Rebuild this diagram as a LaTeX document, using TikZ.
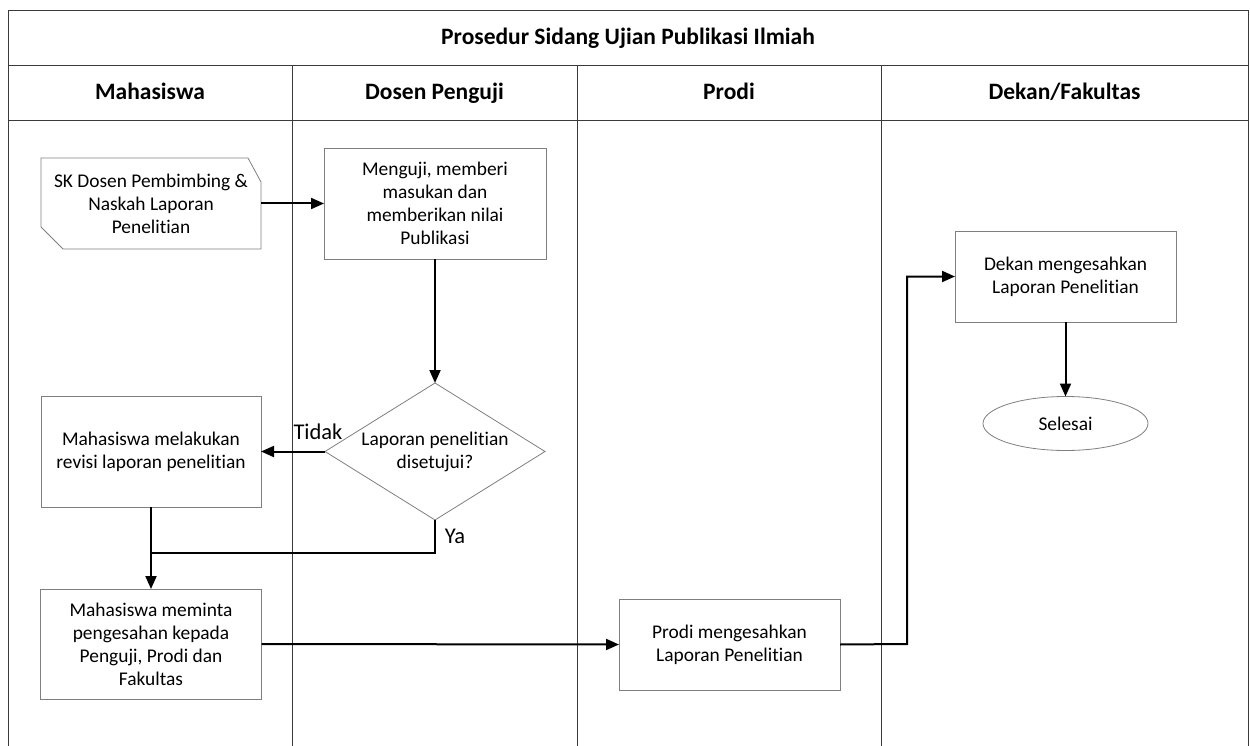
\documentclass[tikz,border=0pt]{standalone}
\usepackage{fontspec}
\setmainfont{Carlito}[Ligatures=NoCommon]
\usetikzlibrary{arrows.meta,shapes.geometric}
\definecolor{boxgray}{HTML}{7F7F7F}
\definecolor{lanegray}{HTML}{3A3A3A}
\tikzset{
  lane/.style={draw=lanegray,line width=1pt},
  body/.style={font=\fontsize{19.4}{23}\selectfont},
  proc/.style={body,draw=boxgray,line width=0.8pt,fill=white,align=center,inner sep=2pt,outer sep=0pt},
  docshape/.style={body,draw=none,align=center,inner sep=2pt,outer sep=0pt},
  dec/.style={body,diamond,draw=boxgray,line width=0.8pt,fill=white,align=center,inner sep=0pt,outer sep=0pt},
  term/.style={body,ellipse,draw=boxgray,line width=0.8pt,fill=white,inner sep=0pt,outer sep=0pt},
  conn/.style={draw=black,line width=2pt},
  arr/.style={conn,-{Triangle[length=13pt,width=11pt]}},
  hdr/.style={font=\bfseries\fontsize{23.5}{27}\selectfont,text height=16pt,text depth=5pt,inner sep=0pt},
  lbl/.style={font=\fontsize{22.5}{26}\selectfont,inner sep=0pt},
}
\begin{document}
\begin{tikzpicture}[x=1pt,y=-1pt]
\useasboundingbox (0,0) rectangle (1250,746);
% swimlane frame
\draw[lane] (8,746) -- (8,11) -- (1248,11) -- (1248,746);
\draw[lane] (8,66) -- (1248,66);
\draw[lane] (8,121) -- (1248,121);
\draw[lane] (292,66) -- (292,746);
\draw[lane] (577,66) -- (577,746);
\draw[lane] (881,66) -- (881,746);
% titles
\node[hdr] (title) at (628,39) {Prosedur Sidang Ujian Publikasi Ilmiah};
\node[hdr] (h1) at (150,94) {Mahasiswa};
\node[hdr] (h2) at (434.5,94) {Dosen Penguji};
\node[hdr] (h3) at (729,94) {Prodi};
\node[hdr] (h4) at (1064.5,94) {Dekan/Fakultas};
% document shape
\node[docshape,minimum width=220pt,minimum height=91pt] (doc) at (151,203.5)
  {SK Dosen Pembimbing \&\\Naskah Laporan\\Penelitian};
\draw[draw=boxgray,line width=0.8pt]
  (doc.north west) -- ([xshift=-13pt]doc.north east) -- ([yshift=-24pt]doc.north east)
  -- (doc.south east) -- ([xshift=22pt]doc.south west) -- ([yshift=22pt]doc.south west) -- cycle;
% process boxes
\node[proc,minimum width=222pt,minimum height=111pt] (uji) at (435,203.5)
  {Menguji, memberi\\masukan dan\\memberikan nilai\\Publikasi};
\node[dec,minimum width=220pt,minimum height=137pt,aspect=1.6] (dc) at (435,451.5)
  {Laporan penelitian\\disetujui?};
\node[proc,minimum width=220pt,minimum height=111pt] (rev) at (151,451.5)
  {Mahasiswa melakukan\\revisi laporan penelitian};
\node[proc,minimum width=221pt,minimum height=110pt] (minta) at (151,644)
  {Mahasiswa meminta\\pengesahan kepada\\Penguji, Prodi dan\\Fakultas};
\node[proc,minimum width=221pt,minimum height=91pt] (prodi) at (729.5,644.5)
  {Prodi mengesahkan\\Laporan Penelitian};
\node[proc,minimum width=221pt,minimum height=91pt] (dekan) at (1065.5,276.5)
  {Dekan mengesahkan\\Laporan Penelitian};
\node[term,minimum width=165pt,minimum height=54pt] (end) at (1065.5,423.5) {Selesai};
% connectors
\coordinate (j) at (151,553);
\coordinate (k) at (907,644);
\draw[arr] (doc.east) -- (uji.west);
\draw[arr] (uji.south) -- (dc.north);
\draw[arr] (dc.west) -- (rev.east);
\draw[conn] (dc.south) |- (j);
\draw[arr] (rev.south) -- (minta.north);
\draw[arr] (minta.east) -- (prodi.west);
\draw[arr] (prodi.east) -- (k) |- (dekan.west);
\draw[arr] (dekan.south) -- (end.north);
% labels
\node[lbl] (tidak) at ([xshift=-7pt,yshift=20pt]dc.west) {Tidak};
\node[lbl] (ya) at ([xshift=20pt,yshift=-16pt]dc.south) {Ya};
\end{tikzpicture}
\end{document}
